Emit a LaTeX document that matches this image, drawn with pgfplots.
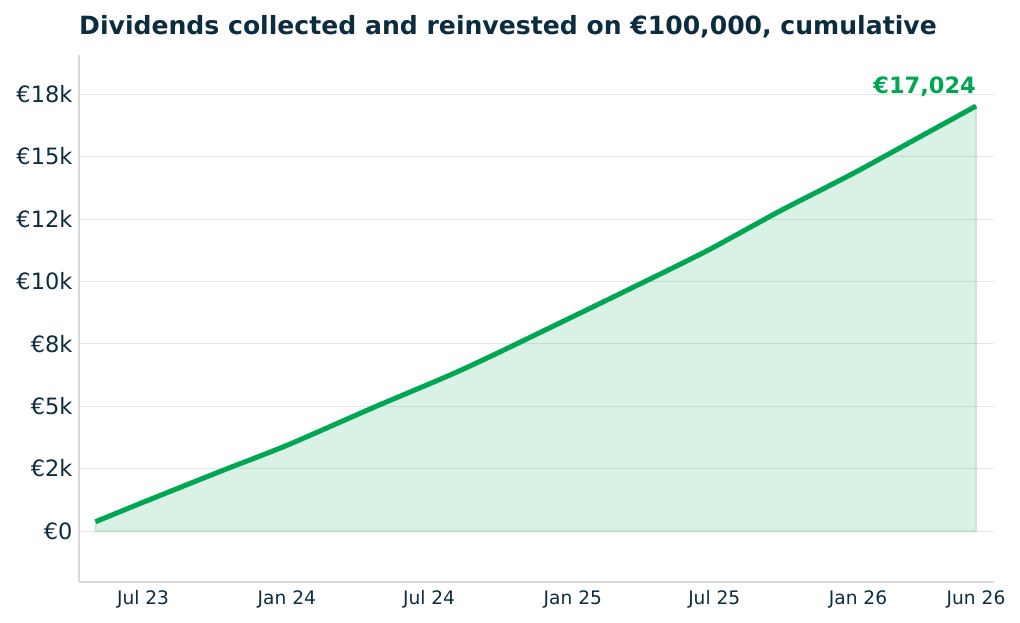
\documentclass[border=0pt]{standalone}
\usepackage{pgfplots}
\pgfplotsset{compat=1.18}
\usepackage{fontspec}
\setmainfont{DejaVu Sans}
\definecolor{navy}{HTML}{0B2D3F}
\definecolor{lgreen}{HTML}{00A651}
\definecolor{axgray}{HTML}{D9D9D9}
\definecolor{gridgray}{HTML}{E6E6E6}
\begin{document}
\begin{tikzpicture}
\path[use as bounding box] (0,0) rectangle (1020pt,623pt);
\node[anchor=base west, inner sep=0, text=navy, font=\fontsize{25.1}{30}\selectfont\bfseries] at (79pt,588pt) {Dividends collected and reinvested on €100,000, cumulative};
\begin{axis}[
  at={(79pt,41pt)}, anchor=south west,
  scale only axis, width=915pt, height=527pt,
  xmin=-82, xmax=1089, ymin=-2043, ymax=19071,
  scaled x ticks=false, scaled y ticks=false,
  axis x line*=bottom, axis y line*=left,
  axis line style={axgray, line width=1.5pt, -},
  xtick={0,184,366,550,731,915,1066},
  xticklabels={Jul 23,Jan 24,Jul 24,Jan 25,Jul 25,Jan 26,Jun 26},
  ytick={0,2500,5000,7500,10000,12500,15000,17500},
  yticklabels={€0,€2k,€5k,€8k,€10k,€12k,€15k,€18k},
  major tick length=0pt,
  ymajorgrids, grid style={gridgray, line width=1pt},
  x tick label style={text=navy, font=\fontsize{18.6}{22}\selectfont, yshift=-5pt},
  y tick label style={text=navy, font=\fontsize{22.5}{27}\selectfont, xshift=-3pt},
  clip=false,
]
\addplot[draw=lgreen, draw opacity=0.18, line width=1.5pt, fill=lgreen, fill opacity=0.15] coordinates {
(-61,0) (-61,370) (0,1150) (103,2440) (184,3430) (295,4950) (393,6250) (457,7180) (585,9120) (687,10680) (731,11380) (815,12820) (870,13700) (918,14480) (990,15720) (1066,17024) (1066,0)} -- cycle;
\addplot[draw=lgreen, line width=5pt, smooth, tension=0.4] coordinates {
(-61,370) (0,1150) (103,2440) (184,3430) (295,4950) (393,6250) (457,7180) (585,9120) (687,10680) (731,11380) (815,12820) (870,13700) (918,14480) (990,15720) (1066,17024)};
\node[anchor=base east, inner sep=0, text=lgreen, font=\fontsize{22.5}{27}\selectfont\bfseries, yshift=13pt] at (axis cs:1066,17024) {€17,024};
\end{axis}
\end{tikzpicture}
\end{document}
